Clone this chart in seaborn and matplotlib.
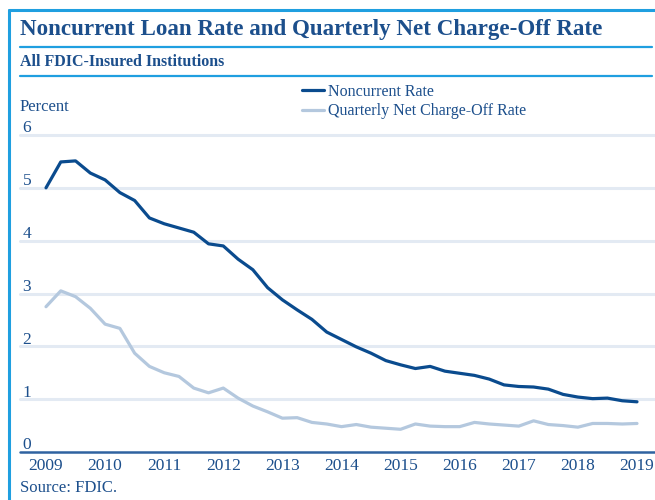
import numpy as np
import pandas as pd
import matplotlib
matplotlib.use("Agg")
import matplotlib.pyplot as plt
import seaborn as sns
from matplotlib.lines import Line2D

# ---- data (quarterly, 2009Q1 .. 2019Q1) ----
quarters = [2009 + 0.25 * i for i in range(41)]
noncurrent_rate = [5.00, 5.49, 5.51, 5.28, 5.15, 4.91, 4.76, 4.43, 4.32, 4.24,
                   4.16, 3.94, 3.90, 3.65, 3.45, 3.11, 2.88, 2.69, 2.51, 2.27,
                   2.13, 1.99, 1.87, 1.73, 1.65, 1.58, 1.62, 1.53, 1.49, 1.45,
                   1.38, 1.27, 1.24, 1.23, 1.19, 1.09, 1.04, 1.01, 1.02, 0.97,
                   0.95]
net_chargeoff_rate = [2.75, 3.05, 2.94, 2.72, 2.42, 2.34, 1.87, 1.62, 1.50, 1.43,
                      1.21, 1.12, 1.21, 1.02, 0.87, 0.76, 0.64, 0.65, 0.56, 0.53,
                      0.48, 0.52, 0.47, 0.45, 0.43, 0.53, 0.49, 0.48, 0.48, 0.56,
                      0.53, 0.51, 0.49, 0.59, 0.52, 0.50, 0.47, 0.54, 0.54, 0.53,
                      0.54]
series_names = ["Noncurrent Rate", "Quarterly Net Charge-Off Rate"]
year_ticks = list(range(2009, 2020))
y_ticks = [0, 1, 2, 3, 4, 5, 6]

title = "Noncurrent Loan Rate and Quarterly Net Charge-Off Rate"
subtitle = "All FDIC-Insured Institutions"
source = "Source: FDIC."

df = pd.concat([
    pd.DataFrame({"quarter": quarters, "value": noncurrent_rate, "series": series_names[0]}),
    pd.DataFrame({"quarter": quarters, "value": net_chargeoff_rate, "series": series_names[1]}),
])

# ---- style ----
DARK = "#0a4b8e"
LIGHT = "#b4c8de"
TEXT = "#1c4f8c"
RULE = "#1f9fe0"
GRID = "#e3eaf3"
AXIS = "#2f62a0"

sns.set_theme(style="white")
plt.rcParams["font.family"] = ["Liberation Serif", "DejaVu Serif"]

W, H = 655, 500
fig = plt.figure(figsize=(W / 100, H / 100), dpi=100)

# axes placement in pixels
left_px, right_px = 20, 655
y0_px, y6_px = 452, 135
ymax = 6.1
unit = (y0_px - y6_px) / 6.0
top_px = y0_px - ymax * unit
ax = fig.add_axes([left_px / W, 1 - y0_px / H, (right_px - left_px) / W, (y0_px - top_px) / H])

sns.lineplot(data=df, x="quarter", y="value", hue="series",
             palette={series_names[0]: DARK, series_names[1]: LIGHT},
             linewidth=2.3, ax=ax, legend=False, zorder=3)

# x scale: 2009 at px 46, 2019 at px 637
ppy = (637 - 46) / 10.0
ax.set_xlim(2009 - (46 - left_px) / ppy, 2019 + (right_px - 637) / ppy)
ax.set_ylim(0, ymax)

for s in ax.spines.values():
    s.set_visible(False)
ax.set_xticks(year_ticks)
ax.set_xticklabels([str(y) for y in year_ticks], fontsize=12.5, color=TEXT)
ax.tick_params(axis="x", length=0, pad=4)
ax.set_yticks([])
ax.set_xlabel("")
ax.set_ylabel("")

for v in y_ticks[1:]:
    ax.axhline(v, color=GRID, linewidth=2.2, zorder=1, clip_on=False)
    ax.text(0.004, v + 0.05, str(v), transform=ax.get_yaxis_transform(),
            ha="left", va="baseline", fontsize=12.5, color=TEXT)
ax.axhline(0, color=AXIS, linewidth=1.8, zorder=2, clip_on=False)
ax.text(0.004, 0.05, "0", transform=ax.get_yaxis_transform(),
        ha="left", va="baseline", fontsize=12.5, color=TEXT)

# legend
handles = [Line2D([], [], color=DARK, linewidth=2.3),
           Line2D([], [], color=LIGHT, linewidth=2.3)]
fig.legend(handles, series_names, loc="upper left",
           bbox_to_anchor=(294 / W, 1 - 76 / H), frameon=False,
           fontsize=11.5, handlelength=1.35, handletextpad=0.3,
           labelspacing=0.2, borderpad=0, labelcolor=TEXT)

# frame and titles
fig.add_artist(Line2D([9 / W, 9 / W], [0, 1 - 10 / H], color=RULE, linewidth=2.2))
fig.add_artist(Line2D([9 / W, 1], [1 - 10 / H, 1 - 10 / H], color=RULE, linewidth=2.2))
fig.add_artist(Line2D([20 / W, 652 / W], [1 - 47 / H, 1 - 47 / H], color=RULE, linewidth=1.6))
fig.add_artist(Line2D([20 / W, 652 / W], [1 - 76 / H, 1 - 76 / H], color=RULE, linewidth=1.6))

fig.text(20 / W, 1 - 30 / H, title, ha="left", va="center", fontsize=16.6,
         fontweight="bold", color=TEXT)
fig.text(20 / W, 1 - 62 / H, subtitle, ha="left", va="center", fontsize=11.5,
         fontweight="bold", color=TEXT)
fig.text(20 / W, 1 - 107 / H, "Percent", ha="left", va="center", fontsize=12, color=TEXT)
fig.text(20 / W, 1 - 488 / H, source, ha="left", va="center", fontsize=12, color=TEXT)

fig.savefig("out.png", dpi=100)
